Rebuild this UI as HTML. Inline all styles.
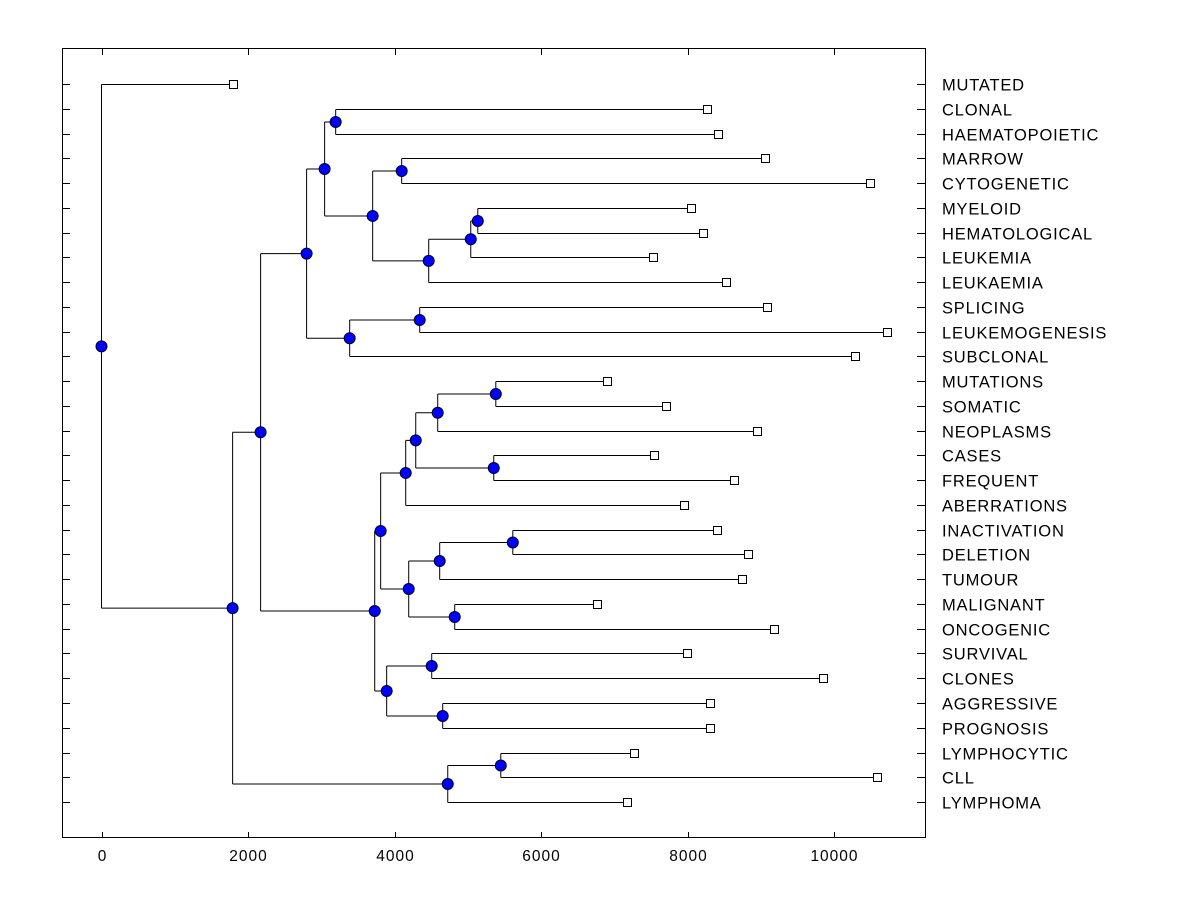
<!DOCTYPE html>
<html><head><meta charset="utf-8"><style>
body{margin:0;background:#fff;}
svg{display:block;font-family:"Liberation Sans",Arial,sans-serif;}
</style></head><body>
<svg id="chart" width="1200" height="900">
<rect x="62.5" y="48.5" width="863" height="789" fill="none" stroke="#000" stroke-width="1"/>
<g id="axes"></g>
<g id="tree"></g>
</svg>
<script>
const leafNames = ["MUTATED","CLONAL","HAEMATOPOIETIC","MARROW","CYTOGENETIC","MYELOID","HEMATOLOGICAL","LEUKEMIA","LEUKAEMIA","SPLICING","LEUKEMOGENESIS","SUBCLONAL","MUTATIONS","SOMATIC","NEOPLASMS","CASES","FREQUENT","ABERRATIONS","INACTIVATION","DELETION","TUMOUR","MALIGNANT","ONCOGENIC","SURVIVAL","CLONES","AGGRESSIVE","PROGNOSIS","LYMPHOCYTIC","CLL","LYMPHOMA"];
const leafValues = [1790,8265,8415,9057,10492,8046,8210,7527,8525,9085,10724,10287,6899,7705,8948,7541,8634,7951,8402,8825,8743,6762,9180,7992,9850,8306,8306,7268,10587,7172];
// internal nodes: [name, value, childA, childB]
const mergeNames = ["G","L","K","J","I","H","E","M","F","C","U","S","T","R","P","X","V","W","Q","N","Y","Z","O","D","B","AA","LYM","A","ROOT"];
const mergeValues = [3197,5137,5041,4467,4098,3702,3046,4344,3388,2800,5383,4590,5355,4290,4153,5615,4617,4822,4194,3811,4508,4658,3893,3730,2172,5451,4727,1790,0];
const mergeChildA = ["CLONAL","MYELOID","L","K","MARROW","I","G","SPLICING","M","E","MUTATIONS","U","CASES","S","R","INACTIVATION","X","MALIGNANT","V","P","SURVIVAL","AGGRESSIVE","Y","N","C","LYMPHOCYTIC","AA","B","MUTATED"];
const mergeChildB = ["HAEMATOPOIETIC","HEMATOLOGICAL","LEUKEMIA","LEUKAEMIA","CYTOGENETIC","J","H","LEUKEMOGENESIS","SUBCLONAL","F","SOMATIC","NEOPLASMS","FREQUENT","T","ABERRATIONS","DELETION","TUMOUR","ONCOGENIC","W","Q","CLONES","PROGNOSIS","Z","O","D","CLL","LYMPHOMA","LYM","A"];
const xTicks = [0,2000,4000,6000,8000,10000];

const NS="http://www.w3.org/2000/svg";
const xScale = v => 101.5 + v*0.07325;
const yLeaf = i => 84 + i*24.76;
const axes=document.getElementById('axes'), tree=document.getElementById('tree');
function mk(tag,attrs,parent){const e=document.createElementNS(NS,tag);for(const k in attrs)e.setAttribute(k,attrs[k]);parent.appendChild(e);return e;}

xTicks.forEach(t=>{
  const x=Math.round(xScale(t))+0.5;
  let l=mk('line',{x1:x,x2:x,y1:838,y2:832,stroke:'#000'},axes);
  
  
  l=mk('line',{x1:x,x2:x,y1:49,y2:55,stroke:'#000'},axes);
  
  
  const tx=mk('text',{x:x,y:861,'text-anchor':'middle','font-size':'15.5','letter-spacing':'1'},axes);
  tx.textContent=t;
  
  
});

const pos={};
leafNames.forEach((n,i)=>{
  const y=Math.round(yLeaf(i))+0.5;
  pos[n]={x:xScale(leafValues[i]),y:y,leaf:true};
  let l=mk('line',{x1:62,x2:70,y1:y,y2:y,stroke:'#000'},axes);
  
  
  l=mk('line',{x1:917,x2:925,y1:y,y2:y,stroke:'#000'},axes);
  
  
  const tx=mk('text',{x:942,y:y+6,'font-size':'16.5','letter-spacing':'0.8'},axes);
  tx.textContent=n;
  
  
});
mergeNames.forEach((n,i)=>{
  const a=pos[mergeChildA[i]], b=pos[mergeChildB[i]];
  pos[n]={x:xScale(mergeValues[i]),y:(a.y+b.y)/2,leaf:false};
});
const lines=mk('g',{},tree), marks=mk('g',{},tree);
mergeNames.forEach((n,i)=>{
  const p=pos[n];
  [mergeChildA[i],mergeChildB[i]].forEach(c=>{
    const q=pos[c];
    const path=mk('path',{d:`M${p.x},${q.y}H${q.x}`,stroke:'#000',fill:'none'},lines);
    
    
  });
  const v=mk('path',{d:`M${p.x},${pos[mergeChildA[i]].y}V${pos[mergeChildB[i]].y}`,stroke:'#000',fill:'none'},lines);
  
  
  const c=mk('circle',{cx:p.x,cy:p.y,r:5.5,fill:'#0000ff',stroke:'#000020','stroke-width':'1'},marks);
  
  
});
leafNames.forEach(n=>{
  const p=pos[n];
  const r=mk('rect',{x:Math.round(p.x)-3.5,y:p.y-4,width:8,height:8,fill:'#fff',stroke:'#000'},marks);
  
  
});
</script>
</body></html>
